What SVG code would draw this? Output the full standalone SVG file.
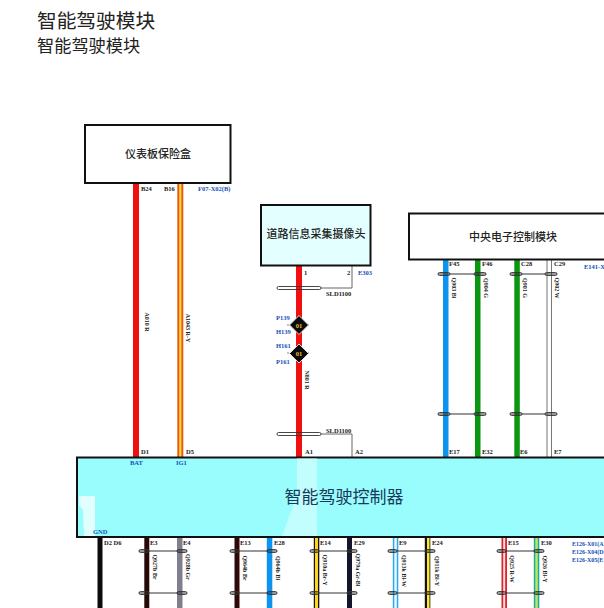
<svg xmlns="http://www.w3.org/2000/svg" width="604" height="608" viewBox="0 0 604 608">
<style>
text{font-family:"Liberation Serif","Noto Sans CJK SC",serif}
.h{font-family:"Noto Sans CJK SC","Noto Sans",sans-serif;fill:#222}
.box{stroke:#111;stroke-width:2}
.t{font-size:11px;font-weight:500;fill:#222;text-anchor:middle;font-family:"Noto Sans CJK SC",sans-serif}
.p{font-size:6.5px;font-weight:bold;fill:#222}
.b{font-size:6.5px;font-weight:bold;fill:#1450b8}
.b2{font-size:6px;font-weight:bold;fill:#1450b8}
.w{font-size:6px;font-weight:bold;fill:#222;text-anchor:middle}
.g{fill:none;stroke:#666;stroke-width:1}
.sh{fill:none;stroke:#333;stroke-width:.9}
.sl{stroke:#333;stroke-width:1.2}
</style>
<rect width="604" height="608" fill="#fff"/>
<text class="h" x="37" y="28" font-size="19.700">智能驾驶模块</text>
<text class="h" x="37" y="52" font-size="17.200">智能驾驶模块</text>

<g id="connectors">
<g id="wires-upper">
<rect x="133" y="183" width="6" height="274" fill="#f01010"/>
<rect x="177.300" y="183" width="6" height="274" fill="#e85a10"/><rect x="179.300" y="183" width="2" height="274" fill="#ffe040"/>
<rect x="296" y="266" width="6" height="191" fill="#f01010"/>
<path class="g" d="M352 266V288H321M321 434H352V457"/>
<rect x="443" y="259" width="5.500" height="198" fill="#0d94ee"/>
<rect x="475" y="259" width="5.500" height="198" fill="#0a960f"/>
<rect x="514.300" y="259" width="5.500" height="198" fill="#0a960f"/>
<path d="M547 259V457M551.500 259V457" stroke="#777" stroke-width="1" fill="none"/>
</g>
<g id="wires-lower">
<rect x="97.500" y="537" width="5" height="71" fill="#0c0c0c"/>
<rect x="144.300" y="537" width="5" height="71" fill="#250808"/>
<rect x="177" y="537" width="5.500" height="71" fill="#7f7f8f"/>
<rect x="234.500" y="537" width="5" height="71" fill="#300808"/>
<rect x="266.800" y="537" width="5.500" height="71" fill="#0d94ee"/>
<rect x="313.800" y="537" width="5.500" height="71" fill="#111"/><rect x="315" y="537" width="3" height="71" fill="#ffd815"/>
<rect x="347" y="537" width="5" height="71" fill="#14142a"/>
<rect x="392.800" y="537" width="5.500" height="71" fill="#2aa8f0"/><rect x="394.300" y="537" width="2.500" height="71" fill="#e8f8ff"/>
<rect x="424.800" y="537" width="5.500" height="71" fill="#111"/><rect x="427" y="537" width="2.500" height="71" fill="#ffe830"/>
<rect x="501.500" y="537" width="5.500" height="71" fill="#e0202a"/><rect x="503.200" y="537" width="2" height="71" fill="#fbe0e0"/>
<rect x="533.800" y="537" width="5.500" height="71" fill="#20a8a0"/><rect x="535.300" y="537" width="2.500" height="71" fill="#b8ea60"/>
</g>
<g id="shields">
<rect class="sh" x="277" y="286.500" width="44" height="3" rx="1.500"/>
<rect class="sh" x="277" y="432.500" width="44" height="3" rx="1.500"/>
<path class="sl" d="M438 274H486M510 274H557M438 414H486M510 414H557"/>
<rect class="sh" x="438" y="272.500" width="12" height="3" rx="1.500"/><rect class="sh" x="474" y="272.500" width="12" height="3" rx="1.500"/>
<rect class="sh" x="510" y="272.500" width="12" height="3" rx="1.500"/><rect class="sh" x="545" y="272.500" width="12" height="3" rx="1.500"/>
<rect class="sh" x="438" y="412.500" width="12" height="3" rx="1.500"/><rect class="sh" x="474" y="412.500" width="12" height="3" rx="1.500"/>
<rect class="sh" x="510" y="412.500" width="12" height="3" rx="1.500"/><rect class="sh" x="545" y="412.500" width="12" height="3" rx="1.500"/>
<path class="sl" d="M139 551H187M139 593H187M230 551H277M230 593H277M310 551H357M310 593H357M388 551H435M388 593H435M497 551H544M497 593H544"/>
<rect class="sh" x="139" y="549.500" width="10" height="3" rx="1.500"/><rect class="sh" x="177" y="549.500" width="10" height="3" rx="1.500"/><rect class="sh" x="139" y="591.500" width="10" height="3" rx="1.500"/><rect class="sh" x="177" y="591.500" width="10" height="3" rx="1.500"/>
<rect class="sh" x="230" y="549.500" width="9" height="3" rx="1.500"/><rect class="sh" x="267" y="549.500" width="10" height="3" rx="1.500"/><rect class="sh" x="230" y="591.500" width="9" height="3" rx="1.500"/><rect class="sh" x="267" y="591.500" width="10" height="3" rx="1.500"/>
<rect class="sh" x="310" y="549.500" width="9" height="3" rx="1.500"/><rect class="sh" x="347" y="549.500" width="10" height="3" rx="1.500"/><rect class="sh" x="310" y="591.500" width="9" height="3" rx="1.500"/><rect class="sh" x="347" y="591.500" width="10" height="3" rx="1.500"/>
<rect class="sh" x="388" y="549.500" width="9" height="3" rx="1.500"/><rect class="sh" x="425" y="549.500" width="10" height="3" rx="1.500"/><rect class="sh" x="388" y="591.500" width="9" height="3" rx="1.500"/><rect class="sh" x="425" y="591.500" width="10" height="3" rx="1.500"/>
<rect class="sh" x="497" y="549.500" width="9" height="3" rx="1.500"/><rect class="sh" x="534" y="549.500" width="10" height="3" rx="1.500"/><rect class="sh" x="497" y="591.500" width="9" height="3" rx="1.500"/><rect class="sh" x="534" y="591.500" width="10" height="3" rx="1.500"/>
</g>
<text class="w" transform="translate(145 322) rotate(90)">A010 R</text>
<text class="w" transform="translate(186 328) rotate(90)">A1043 R-Y</text>
<text class="w" transform="translate(305 380) rotate(90)">N801 R</text>
<text class="w" transform="translate(452 288) rotate(90)">Q903 Bl</text>
<text class="w" transform="translate(484 288) rotate(90)">Q904 G</text>
<text class="w" transform="translate(523 288) rotate(90)">Q901 G</text>
<text class="w" transform="translate(555 288) rotate(90)">Q902 W</text>
<text class="w" transform="translate(153 567) rotate(90)">Q927b Br</text>
<text class="w" transform="translate(186 567) rotate(90)">Q928b Gr</text>
<text class="w" transform="translate(243 568) rotate(90)">Q964b Br</text>
<text class="w" transform="translate(276 568) rotate(90)">Q964b Bl</text>
<text class="w" transform="translate(323 570) rotate(90)">Q910a Br-Y</text>
<text class="w" transform="translate(356 570) rotate(90)">Q979a Gr-Bl</text>
<text class="w" transform="translate(402 571) rotate(90)">Q913k Bl-W</text>
<text class="w" transform="translate(435 571) rotate(90)">Q911k Bl-Y</text>
<text class="w" transform="translate(510 569) rotate(90)">Q925 R-W</text>
<text class="w" transform="translate(543 569) rotate(90)">Q926 Bl-Y</text>
</g>

<g id="fuse-box">
<rect class="box" x="85" y="125" width="145.500" height="58" fill="#fff"/>
<text class="t" x="158" y="158">仪表板保险盒</text>
<text class="p" x="141" y="191">B24</text><text class="p" x="164" y="191">B16</text>
<text class="b" x="198" y="191">F07-X02(B)</text>
</g>

<g id="camera">
<rect class="box" x="261" y="205" width="109.500" height="60.500" fill="#e4ffff"/>
<text class="t" x="316" y="238" font-size="11">道路信息采集摄像头</text>
<text class="p" x="304" y="275">1</text><text class="p" x="347" y="275">2</text>
<text class="b" x="358" y="275">E303</text>
<text class="p" x="326" y="296">SLD1100</text>
<text class="p" x="326" y="433">SLD1100</text>
</g>

<g id="splice-1">
<path d="M287 325H311" stroke="#888" stroke-dasharray="2 2" fill="none"/>
<path d="M299 315.500 308.500 325 299 334.500 289.500 325Z" fill="#0c0c0c" stroke="#ddd" stroke-width="1"/>
<text x="299" y="327.500" font-size="6.500" text-anchor="middle" fill="#e8c030" font-weight="bold">01</text>
<text class="b" x="276" y="320">P139</text><text class="b" x="276" y="334">H139</text>
</g>
<g id="splice-2">
<path d="M287 353H311" stroke="#888" stroke-dasharray="2 2" fill="none"/>
<path d="M299 344 308.500 353.500 299 363 289.500 353.500Z" fill="#0c0c0c" stroke="#ddd" stroke-width="1"/>
<text x="299" y="356" font-size="6.500" text-anchor="middle" fill="#e8c030" font-weight="bold">01</text>
<text class="b" x="276" y="348">H161</text><text class="b" x="276" y="364">P161</text>
</g>

<g id="central-module">
<rect class="box" x="409" y="213.500" width="197" height="46" fill="#fff"/>
<text class="t" x="513" y="241">中央电子控制模块</text>
<text class="p" x="449" y="266">F45</text><text class="p" x="482" y="266">F46</text><text class="p" x="521" y="266">C28</text><text class="p" x="554" y="266">C29</text>
<text class="b" x="584" y="269">E141-X</text>
</g>

<g id="controller">
<rect class="box" x="77" y="457.500" width="530" height="79.500" fill="#99fdfd"/>
<path d="M297 458H317V536H282L297 495Z" fill="#fff" fill-opacity=".4"/>
<path d="M79 496H95V536H84L83 510 79 505Z" fill="#fff" fill-opacity=".7"/>
<text x="344" y="503" font-size="17" text-anchor="middle" fill="#173a5a">智能驾驶控制器</text>
<text class="p" x="141" y="454">D1</text><text class="p" x="186" y="454">D5</text><text class="p" x="305" y="454">A1</text><text class="p" x="355" y="454">A2</text>
<text class="p" x="449" y="454">E17</text><text class="p" x="482" y="454">E32</text><text class="p" x="520" y="454">E6</text><text class="p" x="554" y="454">E7</text>
<text class="b" x="130" y="465">BAT</text><text class="b" x="176" y="465">IG1</text>
<text class="b" x="93" y="534">GND</text>
<text class="p" x="104" y="545">D2 D6</text><text class="p" x="150" y="545">E3</text><text class="p" x="183" y="545">E4</text>
<text class="p" x="240" y="545">E13</text><text class="p" x="274" y="545">E28</text><text class="p" x="320" y="545">E14</text><text class="p" x="354" y="545">E29</text>
<text class="p" x="399" y="545">E9</text><text class="p" x="432" y="545">E24</text><text class="p" x="508" y="545">E15</text><text class="p" x="541" y="545">E30</text>
<text class="b2" x="572" y="546">E126-X01(A</text><text class="b2" x="572" y="554">E126-X04(D</text><text class="b2" x="572" y="562">E126-X05(E</text>
</g>
</svg>
